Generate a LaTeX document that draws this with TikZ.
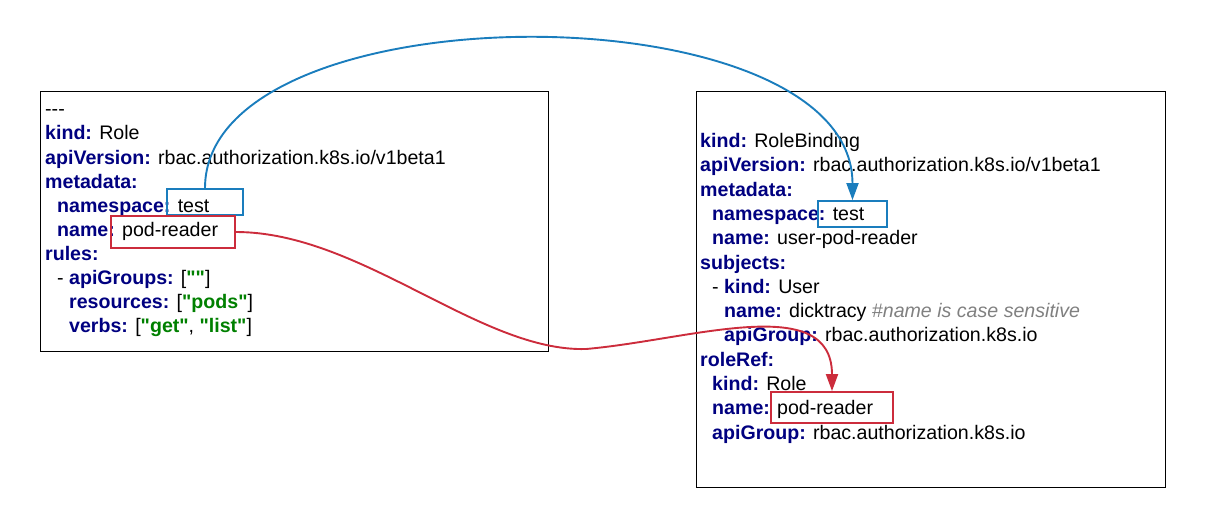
\documentclass[tikz,border=0pt]{standalone}
\usepackage{fontspec}
\setmainfont{Liberation Sans}[Ligatures=TeXOff]
\usetikzlibrary{arrows.meta}
\definecolor{yamlkey}{HTML}{000080}
\definecolor{yamlstr}{HTML}{008000}
\definecolor{yamlcom}{HTML}{808080}
\definecolor{linkblue}{HTML}{1A7DBD}
\definecolor{linkred}{HTML}{CC2C3C}
\newcommand{\ykey}[1]{\textcolor{yamlkey}{\textbf{#1}}}
\newcommand{\ystr}[1]{\textcolor{yamlstr}{\textbf{#1}}}
\newcommand{\ycom}[1]{\textcolor{yamlcom}{\textit{#1}}}
\tikzset{
  codebox/.style={draw, line width=1pt, inner sep=0pt},
  codeline/.style={anchor=base west, inner sep=0pt, font=\fontsize{19.6}{24}\selectfont},
  hlbox/.style={draw, line width=1.8pt, inner sep=0pt},
  hlblue/.style={hlbox, draw=linkblue},
  hlred/.style={hlbox, draw=linkred},
  link/.style={line width=1.9pt, -{Triangle[length=17pt,width=12pt]}},
}

\begin{document}
\begin{tikzpicture}[x=1pt, y=-1pt]
    \useasboundingbox (0,0) rectangle (1205,528);
    % the two manifests
    \node[codebox, minimum width=508pt, minimum height=260pt] (roleBox) at (294,221) {};
    \node[codebox, minimum width=469pt, minimum height=396pt] (bindingBox) at (930.5,289) {};
    % Role
    \node[codeline] (r1) at (45,115.8) {---};
    \node[codeline] (r2) at (45,139.9) {\ykey{kind:} Role};
    \node[codeline] (r3) at (45,164.0) {\ykey{apiVersion:} rbac.authorization.k8s.io/v1beta1};
    \node[codeline] (r4) at (45,188.1) {\ykey{metadata:}};
    \node[codeline] (r5) at (57,212.2) {\ykey{namespace:} test};
    \node[codeline] (r6) at (57,236.3) {\ykey{name:} pod-reader};
    \node[codeline] (r7) at (45,260.4) {\ykey{rules:}};
    \node[codeline] (r8) at (57,284.5) {- \ykey{apiGroups:} [\ystr{""}]};
    \node[codeline] (r9) at (69,308.6) {\ykey{resources:} [\ystr{"pods"}]};
    \node[codeline] (r10) at (69,332.7) {\ykey{verbs:} [\ystr{"get"}, \ystr{"list"}]};
    % RoleBinding
    \node[codeline] (b1) at (700,147.5) {\ykey{kind:} RoleBinding};
    \node[codeline] (b2) at (700,171.8) {\ykey{apiVersion:} rbac.authorization.k8s.io/v1beta1};
    \node[codeline] (b3) at (700,196.1) {\ykey{metadata:}};
    \node[codeline] (b4) at (712,220.4) {\ykey{namespace:} test};
    \node[codeline] (b5) at (712,244.7) {\ykey{name:} user-pod-reader};
    \node[codeline] (b6) at (700,269.0) {\ykey{subjects:}};
    \node[codeline] (b7) at (712,293.3) {- \ykey{kind:} User};
    \node[codeline] (b8) at (724,317.6) {\ykey{name:} dicktracy \ycom{\#name is case sensitive}};
    \node[codeline] (b9) at (724,341.9) {\ykey{apiGroup:} rbac.authorization.k8s.io};
    \node[codeline] (b10) at (700,366.2) {\ykey{roleRef:}};
    \node[codeline] (b11) at (712,390.5) {\ykey{kind:} Role};
    \node[codeline] (b12) at (712,414.8) {\ykey{name:} pod-reader};
    \node[codeline] (b13) at (712,439.1) {\ykey{apiGroup:} rbac.authorization.k8s.io};
    % highlights
    \node[hlblue, minimum width=76pt, minimum height=26pt] (nsRole) at (205,202) {};
    \node[hlred, minimum width=124pt, minimum height=32pt] (nameRole) at (173,232) {};
    \node[hlblue, minimum width=69pt, minimum height=26pt] (nsBinding) at (852.5,214) {};
    \node[hlred, minimum width=122pt, minimum height=31pt] (nameBinding) at (832,407.5) {};
    % links
    \coordinate (dip) at (586,349);
    \draw[link, linkblue] (nsRole.north) .. controls +(0,-201) and +(0,-213) .. (nsBinding.north);
    \draw[link, linkred] (nameRole.east) .. controls +(125,0) and (480,352) .. (dip)
        .. controls (690,340) and +(0,-100) .. (nameBinding.north);
\end{tikzpicture}
\end{document}
